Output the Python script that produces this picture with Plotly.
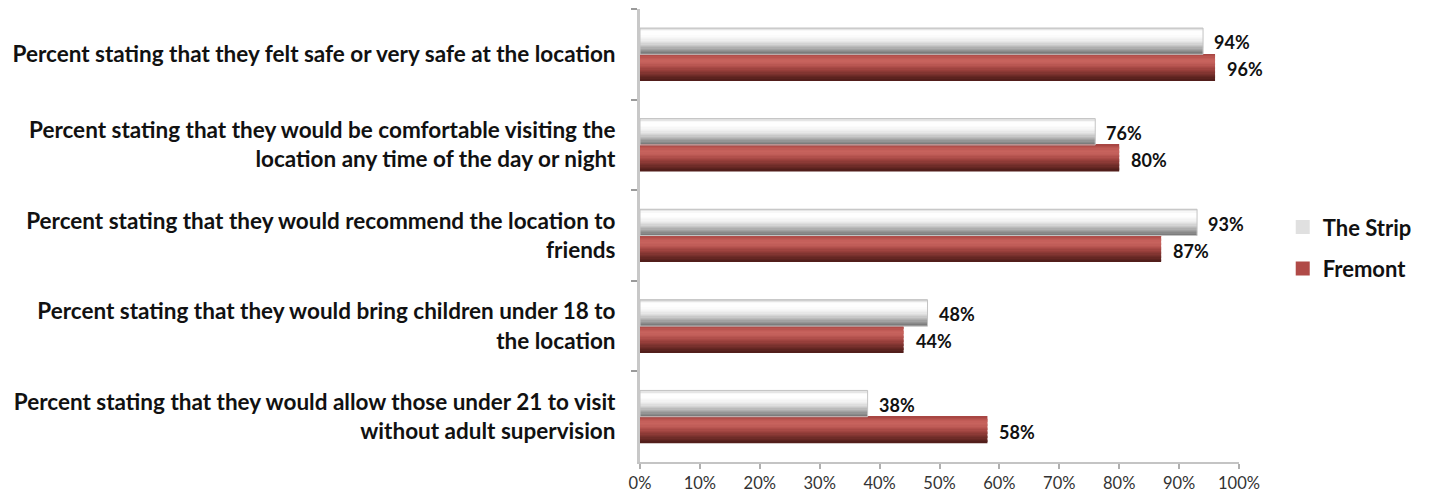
import plotly.graph_objects as go

categories = [
    "Percent stating that they felt safe or very safe at the location",
    "Percent stating that they would be comfortable visiting the<br>location any time of the day or night",
    "Percent stating that they would recommend the location to<br>friends",
    "Percent stating that they would bring children under 18 to<br>the location",
    "Percent stating that they would allow those under 21 to visit<br>without adult supervision",
]
strip_values = [94, 76, 93, 48, 38]
fremont_values = [96, 80, 87, 44, 58]
series_names = ["The Strip", "Fremont"]
x_ticks = list(range(0, 101, 10))
x_tick_labels = [f"{v}%" for v in x_ticks]

FONT = "Lato, 'Open Sans', sans-serif"

# gradient stops (top -> bottom) for each series
strip_stops = ["#d4d4d4", "#fdfdfd", "#ffffff", "#f7f7f7", "#ececec", "#d6d6d6", "#b8b8b8", "#9a9a9a", "#7c7c7c"]
fremont_stops = ["#a84643", "#bd5853", "#c8645e", "#c05d58", "#ad4d49", "#973f3b", "#7f3430", "#682925", "#521e1b"]


def hex2rgb(h):
    h = h.lstrip("#")
    return [int(h[i:i + 2], 16) for i in (0, 2, 4)]


def expand(stops, n):
    out = []
    for k in range(n):
        p = k / (n - 1) * (len(stops) - 1)
        i = min(int(p), len(stops) - 2)
        f = p - i
        a, b = hex2rgb(stops[i]), hex2rgb(stops[i + 1])
        c = [round(a[j] + (b[j] - a[j]) * f) for j in range(3)]
        out.append("rgb(%d,%d,%d)" % tuple(c))
    return out


T = 0.29  # bar thickness in category units
fig = go.Figure()


def add_stripes(values, grad, start):
    n = len(grad)
    for i, c in enumerate(grad):
        fig.add_trace(go.Bar(
            x=values, y=categories, orientation="h",
            width=T / n + 0.003, offset=start + i * T / n,
            marker=dict(color=c, line=dict(width=0)),
            showlegend=False, hoverinfo="skip",
        ))


add_stripes(strip_values, expand(strip_stops, 20), -T)
add_stripes(fremont_values, expand(fremont_stops, 20), 0.0)

# outline for strip bar
fig.add_trace(go.Bar(
    x=strip_values, y=categories, orientation="h",
    width=T, offset=-T,
    marker=dict(color="rgba(0,0,0,0)", line=dict(width=1, color="#c4c4c4")),
    showlegend=False, hoverinfo="skip",
))

# legend entries
fig.add_trace(go.Scatter(x=[None], y=[None], mode="markers", name=series_names[0],
                         legendgroup="a",
                         marker=dict(symbol="square", size=14, color="#e0e0e0")))
fig.add_trace(go.Scatter(x=[None], y=[None], mode="markers", name=series_names[1],
                         legendgroup="b",
                         marker=dict(symbol="square", size=14, color="#b04a47")))

lab_font = dict(family=FONT, size=18, color="#111111", weight="bold")
annotations = []
for cat, sv, fv in zip(categories, strip_values, fremont_values):
    annotations.append(dict(x=sv, y=cat, text=f"{sv}%", showarrow=False,
                            xanchor="left", yanchor="middle", xshift=9, yshift=12,
                            font=lab_font))
    annotations.append(dict(x=fv, y=cat, text=f"{fv}%", showarrow=False,
                            xanchor="left", yanchor="middle", xshift=10, yshift=-15,
                            font=lab_font))

# page body has an 8px margin: figure is laid out so that it lands on the reference pixels
fig.update_layout(
    width=1421, height=488,
    margin=dict(l=632, r=190, t=1, b=34, autoexpand=False),
    paper_bgcolor="white", plot_bgcolor="white",
    barmode="overlay",
    font=dict(family=FONT, color="#111111"),
    showlegend=True,
    legend=dict(x=1.073, y=0.472, xanchor="left", yanchor="middle",
                font=dict(family=FONT, size=22, color="#111111", weight="bold"),
                tracegroupgap=10, traceorder="grouped",
                itemwidth=30, bgcolor="rgba(0,0,0,0)"),
    annotations=annotations,
    xaxis=dict(range=[0, 100], tickvals=x_ticks, ticktext=x_tick_labels,
               showgrid=False, zeroline=False,
               showline=True, linecolor="#c4c4c4", linewidth=2,
               ticks="outside", ticklen=5, tickwidth=2, tickcolor="#b0b0b0",
               tickfont=dict(family=FONT, size=16.5, color="#333333"),
               fixedrange=True),
    yaxis=dict(type="category", categoryarray=categories, autorange="reversed",
               showgrid=False, zeroline=False,
               showline=True, linecolor="#c8c8c8", linewidth=3,
               ticks="outside", tickson="boundaries", ticklen=6, tickwidth=2,
               tickcolor="#9a9a9a", ticklabelstandoff=17,
               tickfont=dict(family=FONT, size=22.5, color="#111111", weight="bold"),
               fixedrange=True),
)
fig.update_traces(selector=dict(type="bar"), cliponaxis=False)

fig.write_html("out.html")
